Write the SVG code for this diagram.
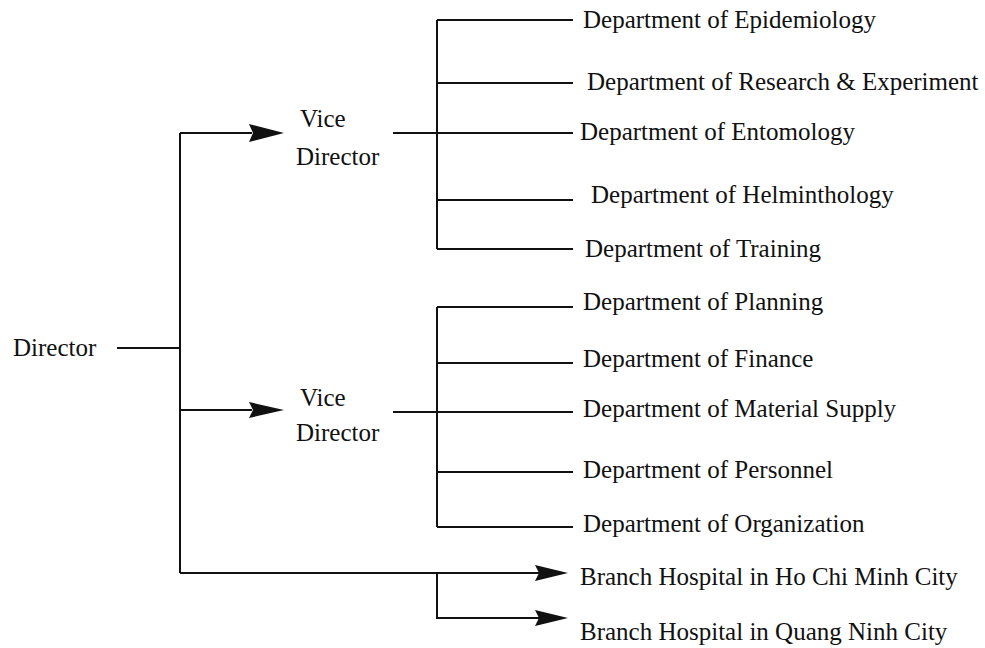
<svg xmlns="http://www.w3.org/2000/svg" width="985" height="648" viewBox="0 0 985 648">
  <style>
    .t { font-size: 25px; fill: #111; }
    .ln { stroke: #111; stroke-width: 2; fill: none; }
    .ah { fill: #111; }
  </style>
  <rect width="985" height="648" fill="#fff"/>

  <!-- connectors -->
  <g id="connectors">
    <!-- Director trunk -->
    <path class="ln" d="M117 348 H180 M180 133 V573"/>
    <path class="ln" d="M180 133 H252 M180 410 H252 M180 573 H540"/>
    <polygon class="ah" points="249,124 284,133 249,142 253,133"/>
    <polygon class="ah" points="249,402 284,410 249,418 253,410"/>
    <polygon class="ah" points="535,565 568,573 535,581 539,573"/>
    <!-- branch hospitals split -->
    <path class="ln" d="M437 573 V618 H540"/>
    <polygon class="ah" points="535,610 568,618 535,626 539,618"/>
    <!-- upper vice director bracket -->
    <path class="ln" d="M393 133 H437 M437 20 V249"/>
    <path class="ln" d="M437 20 H573 M437 83 H573 M437 133 H573 M437 200 H573 M437 249 H573"/>
    <!-- lower vice director bracket -->
    <path class="ln" d="M393 412 H437 M437 307 V527"/>
    <path class="ln" d="M437 307 H573 M437 363 H573 M437 412 H573 M437 472 H573 M437 527 H573"/>
  </g>

  <g font-family="Liberation Serif, DejaVu Serif, serif">
  <g id="director"><text class="t" x="13" y="356">Director</text></g>

  <g id="vice-director-1">
    <text class="t" x="300" y="127">Vice</text>
    <text class="t" x="296" y="165">Director</text>
  </g>
  <g id="vice-director-2">
    <text class="t" x="300" y="406">Vice</text>
    <text class="t" x="296" y="441">Director</text>
  </g>

  <g id="dept-epidemiology"><text class="t" x="583" y="28">Department of Epidemiology</text></g>
  <g id="dept-research"><text class="t" x="587" y="90">Department of Research &amp; Experiment</text></g>
  <g id="dept-entomology"><text class="t" x="580" y="140">Department of Entomology</text></g>
  <g id="dept-helminthology"><text class="t" x="591" y="203">Department of Helminthology</text></g>
  <g id="dept-training"><text class="t" x="585" y="257">Department of Training</text></g>

  <g id="dept-planning"><text class="t" x="583" y="310">Department of Planning</text></g>
  <g id="dept-finance"><text class="t" x="583" y="367">Department of Finance</text></g>
  <g id="dept-material"><text class="t" x="583" y="417">Department of Material Supply</text></g>
  <g id="dept-personnel"><text class="t" x="583" y="478">Department of Personnel</text></g>
  <g id="dept-organization"><text class="t" x="583" y="532">Department of Organization</text></g>

  <g id="branch-hcmc"><text class="t" x="580" y="585">Branch Hospital in Ho Chi Minh City</text></g>
  <g id="branch-quangninh"><text class="t" x="580" y="640">Branch Hospital in Quang Ninh City</text></g>
  </g>
</svg>
